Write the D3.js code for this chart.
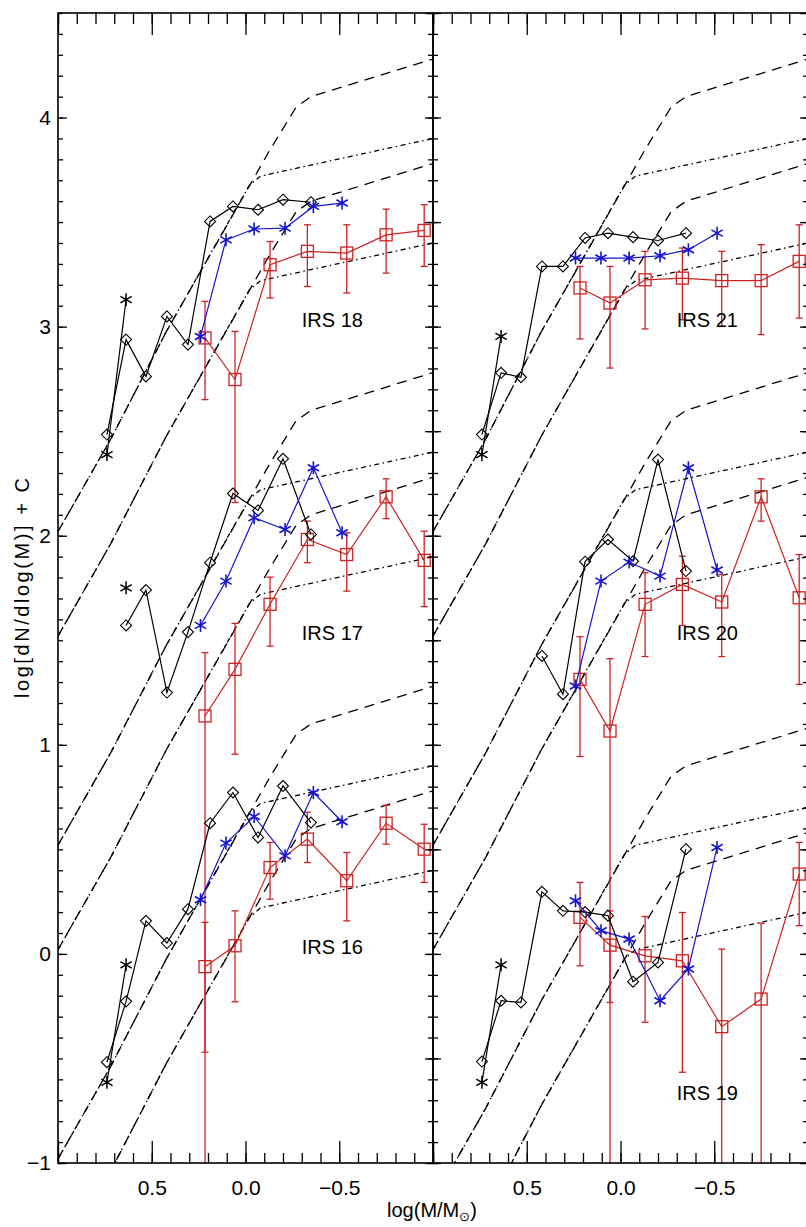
<!DOCTYPE html>
<html><head><meta charset="utf-8">
<script src="https://cdn.jsdelivr.net/npm/d3@7"></script>
<style>
body{margin:0;background:#fff}
svg{display:block}
text{font-family:"Liberation Sans",Arial,sans-serif}
</style>
</head><body>
<svg id="c" width="806" height="1227"></svg>
<script>
// ---------------- data ----------------
const diamondX = [0.739, 0.637, 0.531, 0.419, 0.307, 0.189, 0.067, -0.067, -0.200, -0.349];
const starX    = [0.739, 0.637];
const blueX    = [0.240, 0.104, -0.046, -0.211, -0.362, -0.515];
const redX     = [0.216, 0.056, -0.131, -0.330, -0.540, -0.750, -0.953];

const irs18Diam = [2.484, 2.938, 2.762, 3.049, 2.914, 3.503, 3.575, 3.559, 3.607, 3.595];
const irs18Star = [2.388, 3.129];
const irs18Blue = [2.953, 3.415, 3.467, 3.471, 3.575, 3.591];
const irs18Red  = [2.946, 2.747, 3.296, 3.360, 3.352, 3.439, 3.460];
const irs18RedHi= [3.121, 2.977, 3.407, 3.487, 3.487, 3.562, 3.583];
const irs18RedLo= [2.651, 2.159, 3.137, 3.192, 3.161, 3.256, 3.288];

const irs17Diam = [null, 1.571, 1.740, 1.250, 1.539, 1.871, 2.202, 2.121, 2.368, 2.006];
const irs17Star = [null, 1.751];
const irs17Blue = [1.571, 1.783, 2.086, 2.030, 2.325, 2.014];
const irs17Red  = [1.138, 1.361, 1.672, 1.982, 1.910, 2.186, 1.882];
const irs17RedHi= [1.441, 1.581, 1.802, 2.070, 2.014, 2.272, 2.022];
const irs17RedLo= [-1.5, 0.955, 1.472, 1.871, 1.735, 2.082, 1.661];

const irs16Diam = [-0.518, -0.227, 0.158, 0.052, 0.214, 0.625, 0.772, 0.557, 0.803, 0.628];
const irs16Star = [-0.614, -0.052];
const irs16Blue = [0.259, 0.530, 0.657, 0.469, 0.772, 0.632];
const irs16Red  = [-0.061, 0.039, 0.413, 0.549, 0.350, 0.625, 0.501];
const irs16RedHi= [0.151, 0.206, 0.533, 0.678, 0.485, 0.711, 0.620];
const irs16RedLo= [-0.470, -0.229, 0.262, 0.437, 0.158, 0.525, 0.342];

const irs21Diam = [2.484, 2.779, 2.758, 3.288, 3.288, 3.424, 3.447, 3.428, 3.412, 3.447];
const irs21Star = [2.388, 2.953];
const irs21Blue = [3.328, 3.328, 3.328, 3.339, 3.368, 3.447];
const irs21Red  = [3.185, 3.113, 3.224, 3.232, 3.220, 3.220, 3.312];
const irs21RedHi= [3.288, 3.288, 3.360, 3.376, 3.360, 3.392, 3.487];
const irs21RedLo= [2.941, 2.802, 2.989, 3.033, 3.001, 2.962, 3.041];

const irs20Diam = [null, null, null, 1.425, 1.242, 1.876, 1.982, 1.878, 2.364, 1.831];
const irs20Star = [null, null];
const irs20Blue = [1.281, 1.783, 1.874, 1.807, 2.325, 1.836];
const irs20Red  = [1.313, 1.066, 1.672, 1.767, 1.683, 2.186, 1.703];
const irs20RedHi= [1.517, 1.412, 1.823, 1.902, 1.815, 2.272, 1.910];
const irs20RedLo= [0.944, -1.5, 1.422, 1.571, 1.422, 2.070, 1.289];

const irs19Diam = [-0.515, -0.224, -0.232, 0.297, 0.206, 0.200, 0.183, -0.133, -0.041, 0.501];
const irs19Star = [-0.614, -0.052];
const irs19Blue = [0.254, 0.111, 0.071, -0.224, -0.072, 0.509];
const irs19Red  = [0.175, 0.042, -0.009, -0.033, -0.348, -0.216, 0.382];
const irs19RedHi= [0.342, 0.206, 0.179, 0.198, 0.023, 0.147, 0.533];
const irs19RedLo= [-0.057, -0.232, -0.327, -0.566, -1.5, -1.5, 0.135];

const leftNames  = ["IRS 18", "IRS 17", "IRS 16"];
const rightNames = ["IRS 21", "IRS 20", "IRS 19"];
const labelX = -0.30;
const leftLabelY  = [3.0, 1.5, 0.0];
const rightLabelY = [3.0, 1.5, -0.7];

// model curves (top set), with vertical constants C per group
const modelDashedX = [1.0, 0.72, 0.42, -0.13, -0.27, -0.35, -1.0];
const modelDashedY = [2.02, 2.46, 2.98, 3.845, 4.05, 4.10, 4.28];
const modelDottedX = [1.0, 0.72, 0.42, -0.02, -0.08, -1.0];
const modelDottedY = [2.02, 2.46, 2.98, 3.675, 3.72, 3.90];
const modelPairShift = [0, -0.5];
const leftOffsets  = [0, -1.5, -3.0];
const rightOffsets = [0, -1.5, -3.2];

const xMajor = [1.0, 0.5, 0.0, -0.5, -1.0];
const xLabels = [0.5, 0.0, -0.5];
const yLabels = [-1, 0, 1, 2, 3, 4];

// ---------------- layout ----------------
const svg = d3.select("#c");
const T = 13, B = 1163;
const y = d3.scaleLinear().domain([-1, 4.5]).range([B, T]);
const xL = d3.scaleLinear().domain([1, -1]).range([58, 433]);
const xR = d3.scaleLinear().domain([1, -1]).range([433, 808]);
const RED = "#cc2222", BLUE = "#1414cc";

const xMinor = d3.range(-10, 11).map(i => i / 10);
const yMinor = d3.range(-10, 46).map(i => i / 10);
const yHalf  = d3.range(-2, 10).map(i => i / 2);

const build = (a, xs) => xs.map((xv, i) => ({x: xv, y: a[i]})).filter(d => d.y !== null);

const leftSources = [
  {d: irs18Diam, s: irs18Star, b: irs18Blue, r: irs18Red, hi: irs18RedHi, lo: irs18RedLo},
  {d: irs17Diam, s: irs17Star, b: irs17Blue, r: irs17Red, hi: irs17RedHi, lo: irs17RedLo},
  {d: irs16Diam, s: irs16Star, b: irs16Blue, r: irs16Red, hi: irs16RedHi, lo: irs16RedLo}
];
const rightSources = [
  {d: irs21Diam, s: irs21Star, b: irs21Blue, r: irs21Red, hi: irs21RedHi, lo: irs21RedLo},
  {d: irs20Diam, s: irs20Star, b: irs20Blue, r: irs20Red, hi: irs20RedHi, lo: irs20RedLo},
  {d: irs19Diam, s: irs19Star, b: irs19Blue, r: irs19Red, hi: irs19RedHi, lo: irs19RedLo}
];

function starPath(r) {
  let p = "";
  [90, 30, -30].forEach(a => {
    const t = a * Math.PI / 180, dx = r * Math.cos(t), dy = r * Math.sin(t);
    p += `M${-dx},${-dy}L${dx},${dy}`;
  });
  return p;
}

function panel(id, x, sources, offsets, names, labelYs) {
  const [x0, x1] = x.range();
  svg.append("clipPath").attr("id", id).append("rect")
    .attr("x", x0).attr("y", T).attr("width", x1 - x0).attr("height", B - T);
  const g = svg.append("g").attr("clip-path", `url(#${id})`);
  const line = d3.line().x(d => x(d.x)).y(d => y(d.y));

  // model curves
  offsets.forEach(off => {
    modelPairShift.forEach(sh => {
      g.append("path").datum(modelDashedX.map((xv, i) => ({x: xv, y: modelDashedY[i] + off + sh})))
        .attr("d", line).attr("fill", "none").attr("stroke", "#000").attr("stroke-width", 1.3)
        .attr("stroke-dasharray", "10,7");
      g.append("path").datum(modelDottedX.map((xv, i) => ({x: xv, y: modelDottedY[i] + off + sh})))
        .attr("d", line).attr("fill", "none").attr("stroke", "#000").attr("stroke-width", 1.3)
        .attr("stroke-dasharray", "5,3.5,1.5,3.5");
    });
  });

  sources.forEach((s, k) => {
    const dia = build(s.d, diamondX), st = build(s.s, starX), bl = build(s.b, blueX), rd = build(s.r, redX);
    // red error bars
    redX.forEach((xv, i) => {
      const px = x(xv);
      g.append("line").attr("x1", px).attr("x2", px).attr("y1", y(s.hi[i])).attr("y2", y(s.lo[i]))
        .attr("stroke", RED).attr("stroke-width", 1.3);
      [s.hi[i], s.lo[i]].forEach(v => g.append("line").attr("x1", px - 3.5).attr("x2", px + 3.5)
        .attr("y1", y(v)).attr("y2", y(v)).attr("stroke", RED).attr("stroke-width", 1.3));
    });
    g.append("path").datum(rd).attr("d", line).attr("fill", "none").attr("stroke", RED).attr("stroke-width", 1.2);
    g.selectAll(null).data(rd).join("rect")
      .attr("x", d => x(d.x) - 6).attr("y", d => y(d.y) - 6).attr("width", 12).attr("height", 12)
      .attr("fill", "none").attr("stroke", RED).attr("stroke-width", 1.3);

    // black diamonds
    g.append("path").datum(dia).attr("d", line).attr("fill", "none").attr("stroke", "#000").attr("stroke-width", 1.2);
    g.selectAll(null).data(dia).join("path")
      .attr("d", d => { const cx = x(d.x), cy = y(d.y), r = 5.5; return `M${cx},${cy - r}L${cx + r},${cy}L${cx},${cy + r}L${cx - r},${cy}Z`; })
      .attr("fill", "none").attr("stroke", "#000").attr("stroke-width", 1.1);

    // black stars
    if (st.length > 1) g.append("path").datum(st).attr("d", line).attr("fill", "none").attr("stroke", "#000").attr("stroke-width", 1.2);
    g.selectAll(null).data(st).join("path")
      .attr("transform", d => `translate(${x(d.x)},${y(d.y)})`).attr("d", starPath(6.5))
      .attr("fill", "none").attr("stroke", "#000").attr("stroke-width", 1.5);

    // blue stars
    g.append("path").datum(bl).attr("d", line).attr("fill", "none").attr("stroke", BLUE).attr("stroke-width", 1.2);
    g.selectAll(null).data(bl).join("path")
      .attr("transform", d => `translate(${x(d.x)},${y(d.y)})`).attr("d", starPath(6.5))
      .attr("fill", "none").attr("stroke", BLUE).attr("stroke-width", 1.6);

    // label
    g.append("text").attr("x", x(labelX)).attr("y", y(labelYs[k])).attr("font-size", 20)
      .attr("fill", "#000").text(names[k]);
  });

  // ---- axes ----
  const style = sel => { sel.select(".domain").remove(); sel.selectAll("line").attr("stroke", "#000").attr("stroke-width", 1.3); };
  svg.append("g").attr("transform", `translate(0,${B})`)
    .call(d3.axisBottom(x).tickValues(xMinor).tickSize(-10).tickFormat("")).call(style);
  svg.append("g").attr("transform", `translate(0,${B})`)
    .call(d3.axisBottom(x).tickValues(xMajor).tickSize(-22).tickPadding(17)
      .tickFormat(v => xLabels.includes(v) ? d3.format(".1f")(v) : ""))
    .call(style).call(s => s.selectAll("text").attr("font-size", 21).attr("fill", "#000")
      .style("font-family", "'Liberation Sans',Arial,sans-serif"));
  svg.append("g").attr("transform", `translate(0,${T})`)
    .call(d3.axisTop(x).tickValues(xMinor).tickSize(-11).tickFormat("")).call(style);
  svg.append("g").attr("transform", `translate(0,${T})`)
    .call(d3.axisTop(x).tickValues(xMajor).tickSize(-22).tickFormat("")).call(style);

  svg.append("rect").attr("x", x0).attr("y", T).attr("width", x1 - x0).attr("height", B - T)
    .attr("fill", "none").attr("stroke", "#000").attr("stroke-width", 1.6);
}

panel("clipL", xL, leftSources, leftOffsets, leftNames, leftLabelY);
panel("clipR", xR, rightSources, rightOffsets, rightNames, rightLabelY);

// y axes
const style = sel => { sel.select(".domain").remove(); sel.selectAll("line").attr("stroke", "#000").attr("stroke-width", 1.3); };
// outer left axis
svg.append("g").attr("transform", "translate(58,0)")
  .call(d3.axisLeft(y).tickValues(yMinor).tickSize(-5).tickFormat("")).call(style);
svg.append("g").attr("transform", "translate(58,0)")
  .call(d3.axisLeft(y).tickValues(yLabels).tickSize(-9).tickPadding(7).tickFormat(d3.format("d")))
  .call(style).call(s => s.selectAll("text").attr("font-size", 21).attr("fill", "#000")
    .style("font-family", "'Liberation Sans',Arial,sans-serif"));
// shared middle axis: ticks both ways
[["axisRight", -5, -8], ["axisLeft", -5, -8]].forEach(([fn, mi, ma]) => {
  svg.append("g").attr("transform", "translate(433,0)")
    .call(d3[fn](y).tickValues(yMinor).tickSize(mi).tickFormat("")).call(style);
  svg.append("g").attr("transform", "translate(433,0)")
    .call(d3[fn](y).tickValues(yHalf).tickSize(ma).tickFormat("")).call(style);
});
// right panel right axis
svg.append("g").attr("transform", "translate(808,0)")
  .call(d3.axisRight(y).tickValues(yMinor).tickSize(-5).tickFormat("")).call(style);
svg.append("g").attr("transform", "translate(808,0)")
  .call(d3.axisRight(y).tickValues(yHalf).tickSize(-8).tickFormat("")).call(style);

// axis titles
const xt = svg.append("text").attr("x", 432).attr("y", 1217).attr("text-anchor", "middle")
  .attr("font-size", 20).attr("fill", "#000");
xt.append("tspan").text("log(M/M");
xt.append("tspan").attr("font-size", 13).attr("dy", 4).text("\u2299");
xt.append("tspan").attr("dy", -4).text(")");

svg.append("text").attr("transform", "translate(29,588) rotate(-90)").attr("text-anchor", "middle")
  .attr("font-size", 20).attr("fill", "#000").attr("textLength", 220).attr("lengthAdjust", "spacing")
  .text("log[dN/dlog(M)] + C");
</script>
</body></html>
